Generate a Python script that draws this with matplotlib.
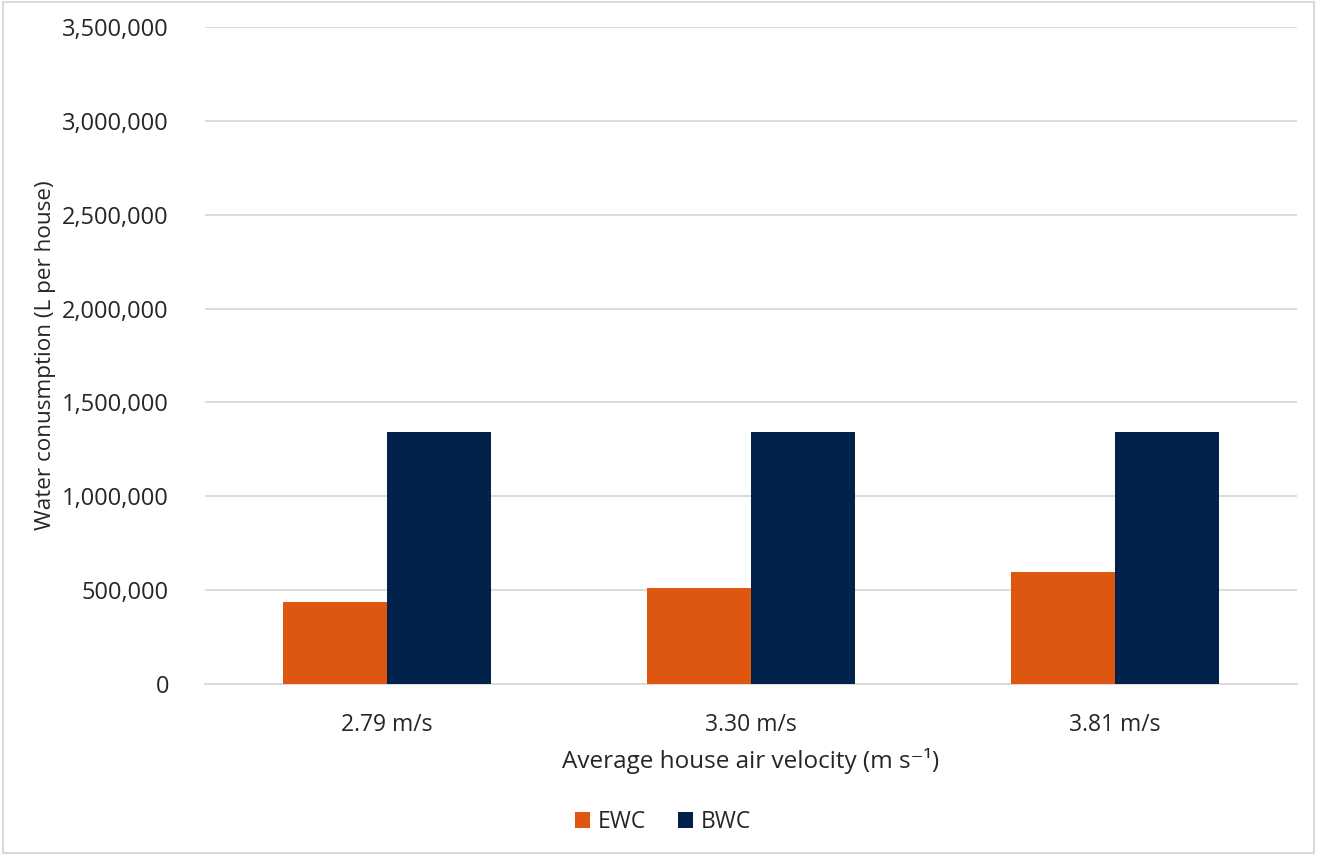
import matplotlib
matplotlib.use("Agg")
import matplotlib.pyplot as plt
import numpy as np
from matplotlib.ticker import FuncFormatter
from matplotlib.patches import Rectangle

categories = ["2.79 m/s", "3.30 m/s", "3.81 m/s"]
ewc = [437000, 513000, 594000]
bwc = [1340000, 1340000, 1340000]
series_names = ["EWC", "BWC"]
colors = ["#DE5710", "#02214B"]

plt.rcParams['font.family'] = ['Open Sans', 'DejaVu Sans']
txt = "#262626"

fig = plt.figure(figsize=(13.17, 8.55), dpi=100)
ax = fig.add_axes([205/1317, 1-684/855, (1297-205)/1317, (684-27)/855])

x = np.arange(len(categories))
w = 104/365
ax.bar(x - w/2, ewc, width=w, color=colors[0], label=series_names[0], zorder=3)
ax.bar(x + w/2, bwc, width=w, color=colors[1], label=series_names[1], zorder=3)

ax.set_xlim(-0.5, len(categories) - 0.5)
ax.set_ylim(0, 3500000)
ax.set_yticks(np.arange(0, 3500001, 500000))
ax.yaxis.set_major_formatter(FuncFormatter(lambda v, p: f"{int(v):,}"))
ax.set_xticks(x)
ax.set_xticklabels(categories)
ax.grid(axis='y', color='#D9D9D9', linewidth=1.3, zorder=0)
for s in ['top', 'right', 'left']:
    ax.spines[s].set_visible(False)
ax.spines['bottom'].set_color('#D9D9D9')
ax.spines['bottom'].set_linewidth(1.3)
ax.tick_params(axis='both', length=0, colors=txt)
ax.tick_params(axis='y', labelsize=17, pad=26)
ax.tick_params(axis='x', labelsize=16.5, pad=21)

ax.set_xlabel("Average house air velocity (m s⁻¹)", fontsize=17.5, color=txt, labelpad=8)
ax.set_ylabel("Water conusmption (L per house)", fontsize=16.2, color=txt)
ax.yaxis.set_label_coords(-149/1092, 0.5)

leg = fig.legend(loc='center', bbox_to_anchor=(663/1317, 1-822/855), ncol=2, frameon=False,
                 fontsize=16.5, handlelength=0.65, handleheight=0.65, handletextpad=0.35,
                 columnspacing=1.4, labelcolor=txt)

fig.patches.append(Rectangle((0.002, 0.002), 0.996, 0.996, transform=fig.transFigure,
                             fill=False, edgecolor='#D9D9D9', linewidth=1.5))

fig.savefig("out.png", dpi=100)
